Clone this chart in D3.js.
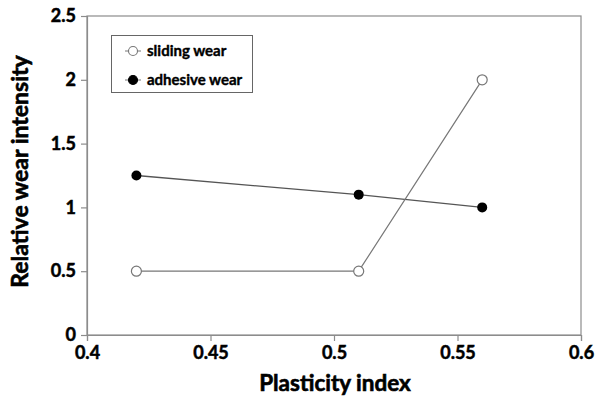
<!DOCTYPE html>
<html><head><meta charset="utf-8">
<script src="https://cdn.jsdelivr.net/npm/d3@7"></script>
<style>body{margin:0;background:#fff}svg{display:block}</style>
</head><body>
<svg id="c" width="595" height="397"></svg>
<script>
const xValues = [0.42, 0.51, 0.56];
const slidingWear = [0.5, 0.5, 2.0];
const adhesiveWear = [1.25, 1.1, 1.0];
const xTicks = [0.4, 0.45, 0.5, 0.55, 0.6];
const yTicks = [0, 0.5, 1, 1.5, 2, 2.5];
const seriesNames = ["sliding wear", "adhesive wear"];

const svg = d3.select("#c");
const font = "Lato, 'Open Sans', sans-serif";
const L = 87, R = 581, T = 16, B = 335;
const x = d3.scaleLinear().domain([0.4, 0.6]).range([L, R]);
const y = d3.scaleLinear().domain([0, 2.5]).range([B, T]);

function heavy(sel, sw) {
  sel.attr("font-family", font).attr("font-weight", "bold").attr("fill", "#000")
     .attr("stroke", "#000").attr("stroke-width", sw).attr("paint-order", "fill");
}

// frame
svg.append("rect").attr("x", L).attr("y", T).attr("width", R - L).attr("height", B - T)
  .attr("fill", "none").attr("stroke", "#8c8c8c").attr("stroke-width", 1.2);

const xa = svg.append("g").attr("transform", `translate(0,${B})`)
  .call(d3.axisBottom(x).tickValues(xTicks).tickFormat(d => String(+d.toFixed(2))).tickSize(6).tickPadding(5));
const ya = svg.append("g").attr("transform", `translate(${L},0)`)
  .call(d3.axisLeft(y).tickValues(yTicks).tickFormat(d => String(d)).tickSize(6).tickPadding(5));
[xa, ya].forEach(a => {
  a.select(".domain").attr("stroke", "#8c8c8c").attr("stroke-width", 1.2);
  a.selectAll(".tick line").attr("stroke", "#8c8c8c").attr("stroke-width", 1.2);
  a.selectAll("text").call(heavy, 0.5).attr("font-size", 18);
});

const line = d3.line().x(d => x(d[0])).y(d => y(d[1]));
const sData = xValues.map((v, i) => [v, slidingWear[i]]);
const aData = xValues.map((v, i) => [v, adhesiveWear[i]]);

svg.append("path").datum(aData).attr("d", line).attr("fill", "none").attr("stroke", "#555").attr("stroke-width", 1.3);
svg.append("path").datum(sData).attr("d", line).attr("fill", "none").attr("stroke", "#777").attr("stroke-width", 1.2);

svg.selectAll(".ap").data(aData).enter().append("circle")
  .attr("cx", d => x(d[0])).attr("cy", d => y(d[1])).attr("r", 5).attr("fill", "#000");
svg.selectAll(".sp").data(sData).enter().append("circle")
  .attr("cx", d => x(d[0])).attr("cy", d => y(d[1])).attr("r", 5).attr("fill", "#fff").attr("stroke", "#777").attr("stroke-width", 1.2);

// legend
const lg = svg.append("g");
lg.append("rect").attr("x", 111.5).attr("y", 35.5).attr("width", 141).attr("height", 57)
  .attr("fill", "#fff").attr("stroke", "#666").attr("stroke-width", 1);
const rows = [{n: seriesNames[0], y: 51, fill: "#fff", stroke: "#777"}, {n: seriesNames[1], y: 80, fill: "#000", stroke: "#000"}];
rows.forEach(r => {
  lg.append("line").attr("x1", 125).attr("x2", 141).attr("y1", r.y).attr("y2", r.y).attr("stroke", "#777").attr("stroke-width", 1);
  lg.append("circle").attr("cx", 133).attr("cy", r.y).attr("r", 4.5).attr("fill", r.fill).attr("stroke", r.stroke).attr("stroke-width", 1.1);
  lg.append("text").attr("x", 147).attr("y", r.y + 5).text(r.n).call(heavy, 0.4).attr("font-size", 15);
});

// axis titles
svg.append("text").attr("x", 335).attr("y", 391).attr("text-anchor", "middle")
  .call(heavy, 0.6).attr("font-size", 22.5).text("Plasticity index");
svg.append("text").attr("transform", "translate(28,171.5) rotate(-90)").attr("text-anchor", "middle")
  .call(heavy, 0.6).attr("font-size", 23).text("Relative wear intensity");
</script>
</body></html>
